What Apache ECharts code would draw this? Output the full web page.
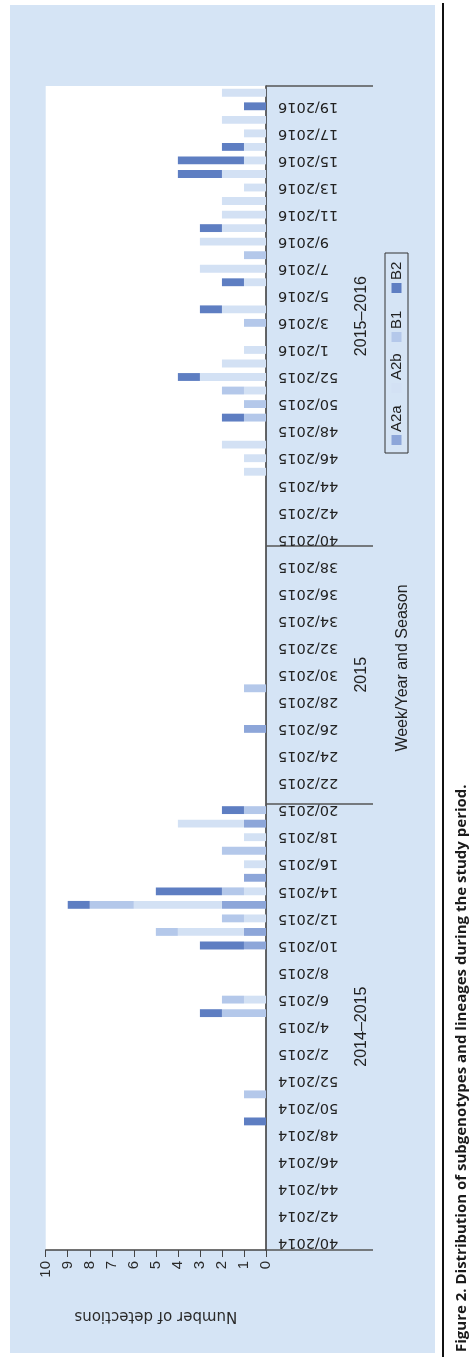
<!DOCTYPE html>
<html>
<head>
<meta charset="utf-8">
<title>Distribution of subgenotypes and lineages</title>
<script src="https://cdn.jsdelivr.net/npm/echarts@6/dist/echarts.min.js"></script>
<style>
  html, body { margin: 0; padding: 0; background: #ffffff; }
  #panel { position: absolute; left: 10px; top: 5px; width: 425px; height: 1348px; background: #d5e4f5; }
  #chart { position: absolute; left: 0; top: 0; width: 470px; height: 1357px; }
</style>
</head>
<body>
<div id="panel"></div>
<div id="chart"></div>
<script>
// Epidemiological weeks, 40/2014 through 20/2016
const weekRanges = [
  { year: 2014, from: 40, to: 52 },
  { year: 2015, from: 1, to: 53 },
  { year: 2016, from: 1, to: 20 }
];
const categories = [];
weekRanges.forEach(r => {
  for (let w = r.from; w <= r.to; w++) categories.push(w + '/' + r.year);
});

// Seasons: first week of each, and the label shown beside it
const seasonStarts = ['40/2014', '21/2015', '40/2015'];
const seasonNames = ['2014\u20132015', '2015', '2015\u20132016'];

const seriesNames = ['A2a', 'A2b', 'B1', 'B2'];
const seriesColors = ['#8da6d9', '#d3e1f4', '#b4c8ea', '#5e7ec2'];

// Weekly detections, one value per week (season 2014-15 | 2015 | 2015-16)
const A2a = [
  0,0,0,0,0,0,0,0,0,0,0,0,0,  0,0,0,0,0,0,0,0,0,1,1,0,2,0,1,0,0,0,1,0,
  0,0,0,0,0,1,0,0,0,0,0,0,0,0,0,0,0,0,0,
  0,0,0,0,0,0,0,0,0,0,0,0,0,0,  0,0,0,0,0,0,0,0,0,0,0,0,0,0,0,0,0,0,0,0
];
const A2b = [
  0,0,0,0,0,0,0,0,0,0,0,0,0,  0,0,0,0,0,1,0,0,0,0,3,1,4,1,0,1,0,1,3,0,
  0,0,0,0,0,0,0,0,0,0,0,0,0,0,0,0,0,0,0,
  0,0,0,0,0,1,1,2,0,0,0,1,3,2,  1,0,0,2,0,1,3,0,3,2,2,2,1,2,1,1,1,2,0,2
];
const B1 = [
  0,0,0,0,0,0,0,0,0,0,0,1,0,  0,0,0,0,2,1,0,0,0,0,1,1,2,1,0,0,2,0,0,1,
  0,0,0,0,0,0,0,0,1,0,0,0,0,0,0,0,0,0,0,
  0,0,0,0,0,0,0,0,0,1,1,1,0,0,  0,0,1,0,0,0,0,1,0,0,0,0,0,0,0,0,0,0,0,0
];
const B2 = [
  0,0,0,0,0,0,0,0,0,1,0,0,0,  0,0,0,0,1,0,0,0,0,2,0,0,1,3,0,0,0,0,0,1,
  0,0,0,0,0,0,0,0,0,0,0,0,0,0,0,0,0,0,0,
  0,0,0,0,0,0,0,0,0,1,0,0,1,0,  0,0,0,1,0,1,0,0,0,1,0,0,0,2,3,1,0,0,1,0
];
const seriesData = [A2a, A2b, B1, B2];

const valueTicks = { min: 0, max: 10, step: 1 };
const caption = 'Figure 2. Distribution of subgenotypes and lineages during the study period.';

// Season boundaries on a band scale (0 .. number of weeks)
const boundaries = seasonStarts.map(s => categories.indexOf(s)).concat([categories.length]);
const seasonMids = seasonNames.map((_, i) => (boundaries[i] + boundaries[i + 1]) / 2);

const chart = echarts.init(document.getElementById('chart'), null, { renderer: 'canvas' });

const sansFlat = 'DejaVu Sans';
const sans = 'Liberation Sans';

const legendPos = [8, 60, 111, 160];
const legendChildren = [{
  type: 'rect',
  shape: { x: 0, y: 0, width: 200, height: 23 },
  style: { fill: 'none', stroke: '#333', lineWidth: 1 }
}];
seriesNames.forEach((n, i) => {
  legendChildren.push({
    type: 'rect',
    shape: { x: legendPos[i], y: 6.5, width: 10, height: 10 },
    style: { fill: seriesColors[i] }
  });
  legendChildren.push({
    type: 'text',
    x: legendPos[i] + 13, y: 11.5,
    style: { text: n, fontSize: 15, fontFamily: sans, fill: '#222', align: 'left', verticalAlign: 'middle' }
  });
});

chart.setOption({
  animation: false,
  backgroundColor: 'transparent',
  grid: {
    left: 45.7, right: 204, top: 86, bottom: 107,
    show: true, backgroundColor: '#ffffff', borderWidth: 0
  },
  xAxis: {
    type: 'value',
    inverse: true,
    min: valueTicks.min, max: valueTicks.max, interval: valueTicks.step,
    position: 'bottom',
    axisLine: { show: true, lineStyle: { color: '#444', width: 1.5 } },
    axisTick: { show: true, length: 7, lineStyle: { color: '#444', width: 1 } },
    axisLabel: { rotate: 90, margin: 11, fontSize: 15, fontFamily: sans, color: '#2a2a2a' },
    splitLine: { show: false },
    name: 'Number of detections',
    nameLocation: 'middle',
    nameRotate: 180,
    nameGap: 58,
    nameTextStyle: { fontSize: 15, fontFamily: sansFlat, color: '#2a2a2a' }
  },
  yAxis: [{
    type: 'category',
    data: categories,
    position: 'right',
    axisLine: { show: true, lineStyle: { color: '#333', width: 1.5 } },
    axisTick: { show: false },
    axisLabel: { interval: 1, rotate: 180, margin: 12, fontSize: 14.5, fontFamily: sansFlat, color: '#222' },
    splitLine: { show: false }
  }, {
    type: 'value',
    min: 0, max: categories.length,
    position: 'right',
    axisLine: { show: false },
    splitLine: { show: false },
    axisTick: { show: true, customValues: boundaries, length: 107, lineStyle: { color: '#555', width: 1.5 } },
    axisLabel: {
      customValues: seasonMids,
      rotate: 90, margin: 88, fontSize: 16, fontFamily: sans, color: '#222',
      formatter: v => seasonNames[seasonMids.indexOf(v)]
    },
    name: 'Week/Year and Season',
    nameLocation: 'middle',
    nameRotate: 90,
    nameGap: 129,
    nameTextStyle: { fontSize: 16, fontFamily: sans, color: '#222' }
  }],
  series: seriesNames.map((n, i) => ({
    name: n,
    type: 'bar',
    stack: 'detections',
    xAxisIndex: 0,
    yAxisIndex: 0,
    barWidth: '58%',
    itemStyle: { color: seriesColors[i] },
    data: seriesData[i]
  })),
  graphic: [
    { type: 'group', x: 385, y: 453, rotation: Math.PI / 2, children: legendChildren },
    { type: 'line', shape: { x1: 443, y1: 3, x2: 443, y2: 1357 }, style: { stroke: '#111', lineWidth: 2 } },
    {
      type: 'text', x: 462, y: 1352, rotation: Math.PI / 2,
      style: { text: caption, fontSize: 15, fontWeight: 'bold', fontFamily: 'Open Sans', fill: '#1a1a1a', align: 'left', verticalAlign: 'middle' }
    }
  ]
});
</script>
</body>
</html>
